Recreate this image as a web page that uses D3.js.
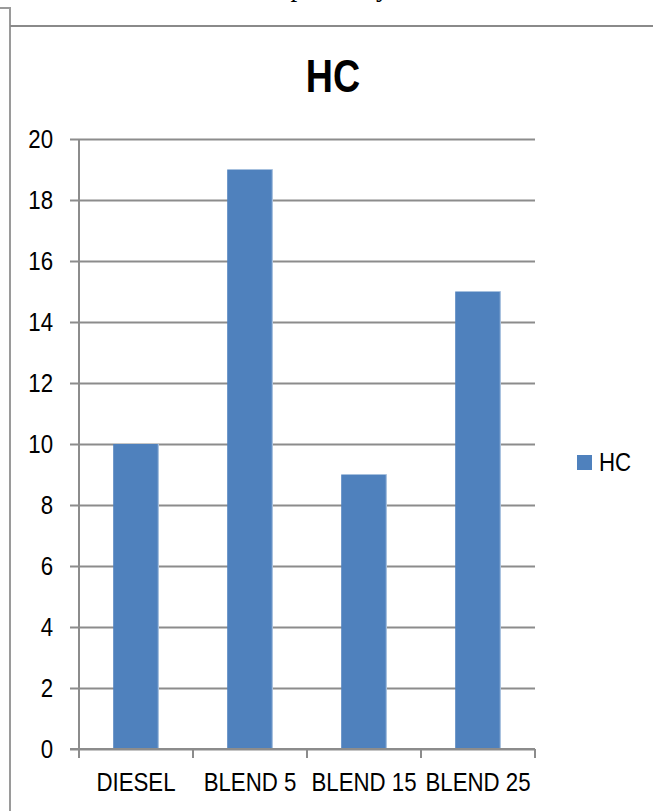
<!DOCTYPE html>
<html>
<head>
<meta charset="utf-8">
<script src="https://cdn.jsdelivr.net/npm/d3@7"></script>
<style>
  html, body { margin: 0; padding: 0; background: #fff; }
  svg { display: block; }
  .lbl { font-family: "Liberation Sans Narrow", "Arial Narrow", "Liberation Sans", Arial, sans-serif; fill: #000; }
</style>
</head>
<body>
<svg id="chart" width="653" height="811"></svg>
<script>
// ---- data ----
const categories = ["DIESEL", "BLEND 5", "BLEND 15", "BLEND 25"];
const hcValues = [10, 19, 9, 15];
const seriesName = "HC";
const chartTitle = "HC";
const yTicks = [0, 2, 4, 6, 8, 10, 12, 14, 16, 18, 20];
const pageFragment = "respectively";

// ---- layout ----
const W = 653, H = 811;
const plot = { left: 79, right: 535, top: 139, bottom: 749 };
const barColor = "#4f81bd";
const gridColor = "#8c8c8c";
const fontSize = 25;
const squeeze = 0.89; // narrow-font emulation

// condense text horizontally around its own x position
function condense(sel, k) {
  const s = k || squeeze;
  sel.each(function () {
    const t = d3.select(this);
    const x0 = +(t.attr("x") || 0);
    t.attr("x", x0 / s).attr("transform", `scale(${s},1)`);
  });
}

const svg = d3.select("#chart");
svg.append("rect").attr("width", W).attr("height", H).attr("fill", "#fff");

// cut-off line of document text at top
svg.append("text")
  .attr("x", 259).attr("y", -4)
  .attr("font-family", "'Liberation Serif', 'Times New Roman', serif")
  .attr("font-size", 27)
  .text(pageFragment);

// frame lines of the document
svg.append("path")
  .attr("d", `M0,8H10V${H}`)
  .attr("fill", "none").attr("stroke", "#9a9a9a").attr("stroke-width", 2);
svg.append("line")
  .attr("x1", 10).attr("x2", W).attr("y1", 26).attr("y2", 26)
  .attr("stroke", "#8a8a8a").attr("stroke-width", 2);

// scales
const y = d3.scaleLinear().domain([0, 20]).range([plot.bottom, plot.top]);
const x = d3.scaleBand().domain(categories).range([plot.left, plot.right])
  .paddingInner(0.6).paddingOuter(0.3);

// y axis with gridlines
const tickOut = 9;
const yAxis = d3.axisLeft(y).tickValues(yTicks)
  .tickSize(plot.right - plot.left + tickOut).tickPadding(17)
  .tickFormat(d3.format("d"));
const gy = svg.append("g").attr("transform", `translate(${plot.right},0)`).call(yAxis);
gy.select(".domain").remove();
gy.selectAll(".tick line").attr("stroke", gridColor).attr("stroke-width", 2);
gy.selectAll(".tick text").attr("class", "lbl").attr("font-size", fontSize)
  .attr("fill", "#000").call(condense);

// bars
svg.append("g").selectAll("rect").data(hcValues).join("rect")
  .attr("x", (d, i) => x(categories[i]))
  .attr("width", x.bandwidth())
  .attr("y", d => y(d))
  .attr("height", d => y(0) - y(d))
  .attr("fill", barColor);
// light right edge of bars
svg.append("g").selectAll("line").data(hcValues).join("line")
  .attr("x1", (d, i) => x(categories[i]) + x.bandwidth() - 0.5)
  .attr("x2", (d, i) => x(categories[i]) + x.bandwidth() - 0.5)
  .attr("y1", d => y(d)).attr("y2", y(0))
  .attr("stroke", "#b8cce4").attr("stroke-width", 1);

// y axis line
svg.append("line")
  .attr("x1", plot.left).attr("x2", plot.left)
  .attr("y1", y(20)).attr("y2", y(0))
  .attr("stroke", gridColor).attr("stroke-width", 2);

// x axis line
svg.append("line")
  .attr("x1", plot.left - tickOut).attr("x2", plot.right)
  .attr("y1", y(0)).attr("y2", y(0))
  .attr("stroke", gridColor).attr("stroke-width", 2);

// x category boundary ticks
const step = x.step();
const bounds = d3.range(categories.length + 1).map(i => plot.left + i * step);
svg.append("g").selectAll("line").data(bounds).join("line")
  .attr("x1", d => d).attr("x2", d => d)
  .attr("y1", y(0)).attr("y2", y(0) + 9)
  .attr("stroke", gridColor).attr("stroke-width", 2);

// x labels
const xAxis = d3.axisBottom(x).tickSize(0).tickPadding(24);
const gx = svg.append("g").attr("transform", `translate(0,${y(0)})`).call(xAxis);
gx.select(".domain").remove();
gx.selectAll(".tick text").attr("class", "lbl").attr("font-size", fontSize)
  .attr("fill", "#000").call(condense);

// title
svg.append("text").attr("class", "lbl")
  .attr("x", 333).attr("y", 92)
  .attr("text-anchor", "middle")
  .attr("font-size", 47).attr("font-weight", "bold")
  .text(chartTitle).call(condense, 0.8);

// legend
const lg = svg.append("g").attr("transform", "translate(577,455)");
lg.append("rect").attr("width", 15).attr("height", 15).attr("fill", barColor);
lg.append("text").attr("class", "lbl").attr("x", 22).attr("y", 16)
  .attr("font-size", fontSize).text(seriesName).call(condense);
</script>
</body>
</html>
